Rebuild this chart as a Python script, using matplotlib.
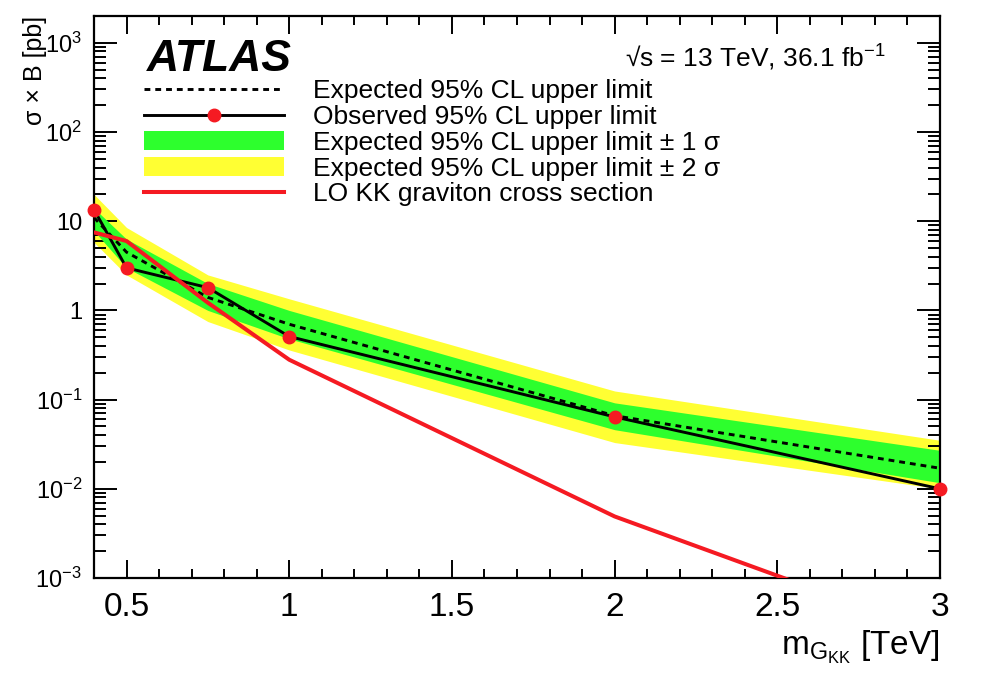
import math
import matplotlib
matplotlib.use("Agg")
import matplotlib.pyplot as plt
from matplotlib.lines import Line2D
from matplotlib.patches import Patch
from matplotlib.ticker import LogLocator, MultipleLocator, FuncFormatter, NullFormatter

plt.rcParams["font.family"] = ["Liberation Sans", "DejaVu Sans"]
plt.rcParams["mathtext.fontset"] = "custom"
plt.rcParams["mathtext.rm"] = "Liberation Sans"
plt.rcParams["mathtext.it"] = "Liberation Sans:italic"
plt.rcParams["mathtext.bf"] = "Liberation Sans:bold"

# masses of the KK graviton [TeV]
mass = [0.4, 0.5, 0.75, 1.0, 2.0, 3.0]
# limits on sigma x B [pb]
observed = [13.5, 3.0, 1.8, 0.51, 0.064, 0.010]
expected = [11.0, 4.5, 1.4, 0.70, 0.066, 0.017]
exp_up1 = [14.0, 6.3, 2.0, 1.0, 0.092, 0.027]
exp_dn1 = [7.8, 3.0, 1.0, 0.48, 0.046, 0.0117]
exp_up2 = [20.0, 8.5, 2.5, 1.35, 0.125, 0.035]
exp_dn2 = [5.8, 2.5, 0.75, 0.36, 0.033, 0.0100]
# LO cross section of the KK graviton [pb]
graviton = [7.5, 6.0, 1.22, 0.28, 0.0049, 0.00023]

legend_labels = [
    "Expected 95% CL upper limit",
    "Observed 95% CL upper limit",
    "Expected 95% CL upper limit \u00b1 1 \u03c3",
    "Expected 95% CL upper limit \u00b1 2 \u03c3",
    "LO KK graviton cross section",
]

green = "#2dff2d"
yellow = "#ffff33"
red = "#f51a22"

fig = plt.figure(figsize=(9.86, 6.82), dpi=100)
ax = fig.add_axes([94 / 986, 1 - 578 / 682, (940 - 94) / 986, (578 - 16) / 682])

ax.fill_between(mass, exp_dn2, exp_up2, color=yellow, lw=0, zorder=1)
ax.fill_between(mass, exp_dn1, exp_up1, color=green, lw=0, zorder=2)
ax.plot(mass, expected, color="black", lw=2.1, ls=(0, (2.0, 1.7)), zorder=3)
ax.plot(mass, observed, color="black", lw=2.1, zorder=4)
ax.plot(mass, graviton, color=red, lw=2.9, zorder=5)
ax.plot(mass, observed, ls="none", marker="o", ms=9, mfc=red, mec=red, zorder=6, clip_on=False)

ax.set_yscale("log")
ax.set_xlim(0.4, 3.0)
ax.set_ylim(1e-3, 2e3)

ax.xaxis.set_major_locator(MultipleLocator(0.5))
ax.xaxis.set_minor_locator(MultipleLocator(0.1))
ax.yaxis.set_major_locator(LogLocator(base=10, numticks=20))
ax.yaxis.set_minor_locator(LogLocator(base=10, subs=range(2, 10), numticks=20))
ax.yaxis.set_minor_formatter(NullFormatter())


def fmt_log(v, pos):
    if abs(v - 1) < 1e-9:
        return "1"
    if abs(v - 10) < 1e-9:
        return "10"
    return r"$\mathregular{10^{%d}}$" % round(math.log10(v))


ax.yaxis.set_major_formatter(FuncFormatter(fmt_log))
ax.xaxis.set_major_formatter(FuncFormatter(lambda v, p: "%g" % v))

ax.tick_params(which="both", direction="in", top=True, right=True, width=1.4, colors="black")
ax.tick_params(axis="x", which="major", length=13, pad=10, labelsize=24)
ax.tick_params(axis="x", which="minor", length=6.5)
ax.tick_params(axis="y", which="major", length=16.5, pad=8.6, labelsize=17)
ax.tick_params(axis="y", which="minor", length=8.6)
for s in ax.spines.values():
    s.set_linewidth(1.6)

ax.set_xlabel(r"$\mathregular{m_{G_{KK}}}$ [TeV]", fontsize=24, loc="right")
ax.set_ylabel("\u03c3 \u00d7 B [pb]", fontsize=18, loc="top")
ax.yaxis.set_label_coords(-0.056, 1.0)

handles = [
    Line2D([], [], color="black", lw=2.1, ls=(0, (2.0, 1.7))),
    Line2D([], [], color="black", lw=2.1, marker="o", ms=9, mfc=red, mec=red),
    Patch(facecolor=green, edgecolor="none"),
    Patch(facecolor=yellow, edgecolor="none"),
    Line2D([], [], color=red, lw=2.9),
]
fig.legend(handles, legend_labels, loc="upper left", bbox_to_anchor=(144 / 986, 1 - 79 / 682),
           frameon=False, fontsize=19, handlelength=5.3, handleheight=0.72, handletextpad=1.1,
           labelspacing=0.07, borderpad=0, borderaxespad=0)

fig.text(147 / 986, 1 - 71 / 682, "ATLAS", fontsize=32, fontweight="bold", fontstyle="italic",
         va="baseline", ha="left")
fig.text(885 / 986, 1 - 67 / 682, "\u221as = 13 TeV, 36.1 fb$^{-1}$", fontsize=19,
         va="baseline", ha="right")

fig.savefig("out.png", dpi=100)
